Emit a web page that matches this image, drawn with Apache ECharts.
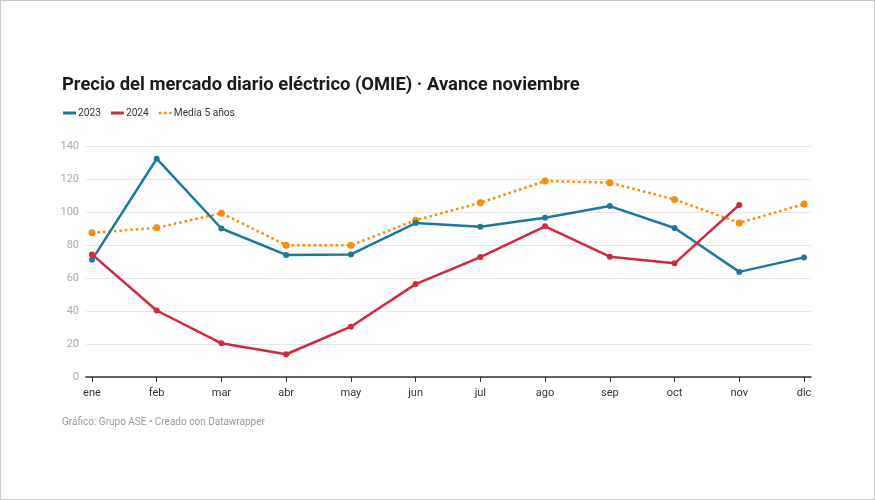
<!DOCTYPE html>
<html><head><meta charset="utf-8">
<script src="https://cdn.jsdelivr.net/npm/echarts@6/dist/echarts.min.js"></script>
<style>
html,body{margin:0;padding:0;background:#fff;}
#c{width:875px;height:500px;box-sizing:border-box;border:1px solid #c8c8c8;}
</style></head>
<body><div id="c"></div>
<script>
const months = ['ene','feb','mar','abr','may','jun','jul','ago','sep','oct','nov','dic'];
const s2023 = [71, 132.3, 90, 74, 74.3, 93.3, 91, 96.5, 103.6, 90.3, 63.7, 72.5];
const s2024 = [74.3, 40.3, 20.4, 13.8, 30.5, 56.3, 72.7, 91.3, 72.9, 68.9, 104.3];
const sMedia = [87.4, 90.4, 99.3, 79.9, 79.8, 95, 105.6, 118.8, 117.8, 107.6, 93.4, 104.8];
const yTicks = [0, 20, 40, 60, 80, 100, 120, 140];

const toPts = arr => arr.map((v, i) => [i, v]);
const chart = echarts.init(document.getElementById('c'), null, {renderer: 'canvas'});
const ff = 'Roboto, "Noto Sans", sans-serif';
chart.setOption({
  animation: false,
  textStyle: {fontFamily: ff},
  title: {
    text: 'Precio del mercado diario eléctrico (OMIE) · Avance noviembre',
    left: 56, top: 70,
    textStyle: {fontFamily: ff, fontSize: 18.4, fontWeight: 'bold', color: '#1a1a1a'}
  },
  legend: {
    left: 57, top: 102, itemGap: 10, itemWidth: 13, itemHeight: 3,
    textStyle: {fontFamily: ff, fontSize: 10.2, color: '#333', padding: [0, 0, 0, -3]},
    data: [
      {name: '2023', icon: 'rect'},
      {name: '2024', icon: 'rect'},
      {name: 'Media 5 años', icon: 'path://M0,0h2v2h-2z M4,0h2v2h-2z M8,0h2v2h-2z'}
    ]
  },
  grid: {left: 85, right: 63, top: 145, bottom: 122},
  xAxis: {
    type: 'value', min: -0.092, max: 11.108,
    axisLine: {show: true, lineStyle: {color: '#333', width: 1.5}},
    axisTick: {show: true, customValues: months.map((m, i) => i), length: 5, lineStyle: {color: '#333'}},
    axisLabel: {customValues: months.map((m, i) => i), formatter: v => months[Math.round(v)], color: '#333', fontSize: 11, margin: 11},
    splitLine: {show: false}
  },
  yAxis: {
    type: 'value', min: 0, max: 140, interval: 20,
    axisLine: {show: false}, axisTick: {show: false},
    axisLabel: {customValues: yTicks, color: '#aaa', fontSize: 11, margin: 7},
    splitLine: {lineStyle: {color: '#e6e6e6', width: 1}}
  },
  series: [
    {name: '2023', type: 'line', data: toPts(s2023), color: '#1a7a9e',
     symbol: 'circle', symbolSize: 6, lineStyle: {width: 2.5}, z: 3},
    {name: '2024', type: 'line', data: toPts(s2024), color: '#d7263d',
     symbol: 'circle', symbolSize: 6, lineStyle: {width: 2.5}, z: 4},
    {name: 'Media 5 años', type: 'line', data: toPts(sMedia), color: '#ff8c00',
     symbol: 'circle', symbolSize: 7, lineStyle: {width: 2.5, type: [2.5, 3]}, z: 2}
  ],
  graphic: [{
    type: 'text', left: 61, top: 416,
    style: {text: 'Gráfico: Grupo ASE • Creado con Datawrapper', fill: '#999', font: '10px ' + ff}
  }]
});
</script></body></html>
